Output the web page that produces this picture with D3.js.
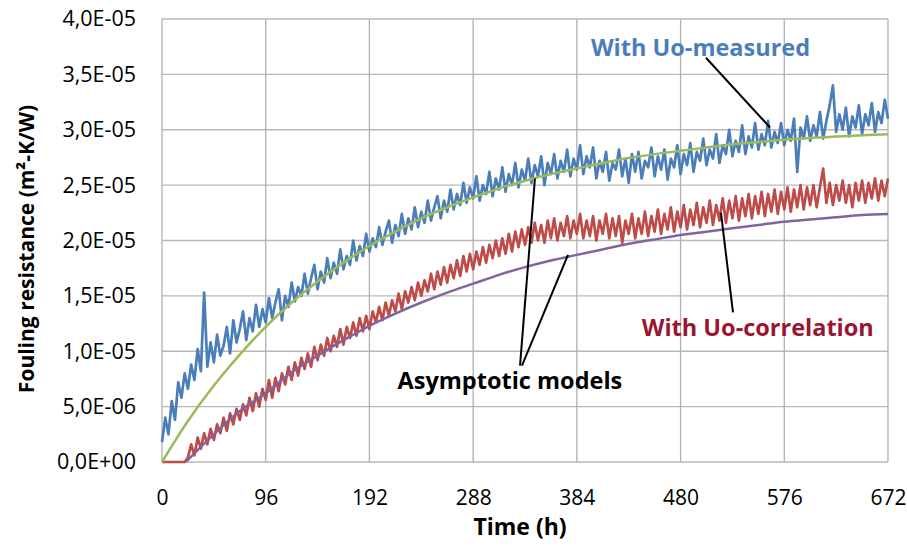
<!DOCTYPE html>
<html><head><meta charset="utf-8">
<script src="https://cdn.jsdelivr.net/npm/d3@7/dist/d3.min.js"></script>
<style>body{margin:0;background:#fff}svg{display:block}</style>
</head><body><svg id="c" width="907" height="547"></svg>
<script>
// Values in units of 1E-05 m2-K/W
const timeStep = 3; // hours between measured points
const measured = [0.18,0.40,0.25,0.55,0.38,0.72,0.58,0.80,0.66,0.88,0.74,1.02,0.82,1.53,0.86,1.08,0.90,1.15,0.96,1.05,1.22,0.98,1.28,1.08,1.20,1.36,1.10,1.30,1.18,1.42,1.22,1.38,1.26,1.48,1.30,1.44,1.56,1.28,1.50,1.40,1.62,1.45,1.58,1.50,1.70,1.52,1.66,1.78,1.56,1.72,1.62,1.84,1.66,1.80,1.70,1.92,1.74,1.86,1.78,2.00,1.82,1.95,1.86,2.06,1.90,2.02,1.94,2.12,1.96,2.08,2.18,1.98,2.14,2.04,2.24,2.06,2.20,2.10,2.30,2.12,2.26,2.16,2.36,2.18,2.30,2.40,2.20,2.36,2.26,2.46,2.28,2.42,2.32,2.52,2.34,2.48,2.38,2.58,2.36,2.50,2.42,2.62,2.40,2.56,2.46,2.66,2.44,2.60,2.50,2.70,2.48,2.64,2.54,2.74,2.52,2.68,2.58,2.76,2.50,2.70,2.60,2.78,2.56,2.72,2.62,2.82,2.58,2.74,2.64,2.86,2.60,2.76,2.66,2.84,2.56,2.72,2.62,2.80,2.54,2.70,2.64,2.82,2.58,2.74,2.52,2.78,2.62,2.80,2.56,2.72,2.66,2.84,2.58,2.76,2.64,2.82,2.55,2.74,2.66,2.86,2.60,2.78,2.68,2.88,2.62,2.80,2.72,2.92,2.68,2.82,2.74,2.96,2.70,2.86,2.78,3.00,2.76,2.90,2.80,3.04,2.78,2.94,2.84,3.06,2.82,2.96,2.86,3.08,2.84,2.98,2.88,3.06,2.86,3.00,2.90,3.10,2.62,3.02,2.92,3.12,2.90,3.04,2.94,3.16,2.92,3.08,3.22,3.40,2.98,3.14,3.00,3.20,2.94,3.12,3.02,3.22,2.96,3.14,3.04,3.24,2.98,3.16,3.06,3.27,3.10];
const correlation = [0,0,0,0,0,0,0,0,0.04,0.16,0.06,0.22,0.12,0.26,0.16,0.30,0.20,0.34,0.26,0.40,0.28,0.44,0.34,0.48,0.38,0.52,0.42,0.58,0.46,0.62,0.50,0.66,0.56,0.74,0.58,0.76,0.64,0.80,0.70,0.86,0.74,0.90,0.78,0.94,0.84,0.98,0.86,1.04,0.92,1.06,0.96,1.12,1.00,1.14,1.04,1.20,1.06,1.22,1.12,1.26,1.14,1.30,1.18,1.32,1.20,1.36,1.26,1.40,1.28,1.44,1.32,1.46,1.36,1.52,1.38,1.54,1.44,1.58,1.46,1.62,1.50,1.64,1.54,1.70,1.56,1.72,1.60,1.76,1.62,1.78,1.66,1.82,1.68,1.86,1.72,1.88,1.74,1.90,1.78,1.94,1.80,1.96,1.84,2.00,1.86,2.02,1.88,2.06,1.90,2.08,1.94,2.10,1.96,2.12,1.98,2.16,2.00,2.14,1.98,2.18,2.02,2.20,2.00,2.16,2.04,2.22,2.02,2.18,2.06,2.24,2.02,2.18,2.04,2.22,2.00,2.18,2.06,2.24,2.02,2.20,2.04,2.22,1.98,2.18,2.06,2.24,2.02,2.20,2.06,2.26,2.04,2.22,2.08,2.28,2.06,2.24,2.10,2.30,2.08,2.26,2.12,2.32,2.10,2.28,2.14,2.34,2.12,2.30,2.16,2.36,2.14,2.32,2.18,2.38,2.16,2.36,2.20,2.40,2.18,2.38,2.22,2.42,2.20,2.40,2.24,2.44,2.22,2.42,2.26,2.46,2.24,2.44,2.28,2.48,2.26,2.46,2.30,2.50,2.28,2.48,2.32,2.50,2.30,2.48,2.65,2.34,2.52,2.32,2.50,2.36,2.54,2.34,2.50,2.30,2.52,2.36,2.54,2.34,2.52,2.38,2.56,2.36,2.54,2.40,2.56];
const modelTimes = [0,24,48,72,96,120,144,168,192,216,240,264,288,312,336,360,384,408,432,456,480,504,528,552,576,600,624,648,672];
const modelMeasured = [0,0.37,0.69,0.97,1.22,1.44,1.63,1.80,1.95,2.08,2.20,2.30,2.39,2.47,2.54,2.60,2.65,2.70,2.745,2.78,2.81,2.84,2.87,2.89,2.91,2.925,2.94,2.95,2.96];
const modelCorrTimes = [22,24,48,72,96,120,144,168,192,216,240,264,288,312,336,360,384,408,432,456,480,504,528,552,576,600,624,648,672];
const modelCorrelation = [0,0.02,0.25,0.46,0.62,0.81,0.96,1.10,1.23,1.34,1.44,1.53,1.61,1.69,1.76,1.82,1.87,1.92,1.97,2.01,2.05,2.08,2.11,2.14,2.17,2.19,2.21,2.23,2.24];
const xTicks = [0,96,192,288,384,480,576,672];
const yTicks = [0,0.5,1.0,1.5,2.0,2.5,3.0,3.5,4.0];
const yTickLabels = ["0,0E+00","5,0E-06","1,0E-05","1,5E-05","2,0E-05","2,5E-05","3,0E-05","3,5E-05","4,0E-05"];
// annotation pointer lines [t1,v1,t2,v2]
const pointers = [[503.5,3.65,562.8,3.02],[331.4,0.87,345.2,2.56],[333.2,0.87,375.8,1.87],[517.4,2.25,528.5,1.35]];
const labels = [
  {text:"With Uo-measured", t:397, v:3.67, color:"#4a7ebb"},
  {text:"Asymptotic models", t:218, v:0.66, color:"#000"},
  {text:"With Uo-correlation", t:444, v:1.14, color:"#9a1530"}
];

const svg = d3.select("#c");
const m = {l:162, r:888, t:19, b:462};
const x = d3.scaleLinear().domain([0,672]).range([m.l,m.r]);
const y = d3.scaleLinear().domain([0,4]).range([m.b,m.t]);
const font = "'Open Sans', sans-serif";

// grid
const g = svg.append("g");
g.selectAll(".hg").data(yTicks).join("line")
  .attr("x1",m.l).attr("x2",m.r).attr("y1",d=>y(d)).attr("y2",d=>y(d))
  .attr("stroke","#b8b8b8").attr("stroke-width",1.3);
g.selectAll(".vg").data(xTicks).join("line")
  .attr("x1",d=>x(d)).attr("x2",d=>x(d)).attr("y1",m.t).attr("y2",m.b)
  .attr("stroke","#b0b0b0").attr("stroke-width",1.3);

// axis labels
const yAxis = d3.axisLeft(y).tickValues(yTicks).tickSize(0).tickPadding(26)
  .tickFormat((d,i)=>yTickLabels[i]);
const ya = svg.append("g").attr("transform",`translate(${m.l},0)`).call(yAxis);
ya.select(".domain").remove();
ya.selectAll("text").attr("font-family",font).attr("font-size",21.5).attr("fill","#000");

const xAxis = d3.axisBottom(x).tickValues(xTicks).tickSize(0).tickPadding(28);
const xa = svg.append("g").attr("transform",`translate(0,${m.b})`).call(xAxis);
xa.select(".domain").remove();
xa.selectAll("text").attr("font-family",font).attr("font-size",21).attr("fill","#000");

// series
const line = d3.line().x(d=>x(d[0])).y(d=>y(d[1]));
const smooth = d3.line().x(d=>x(d[0])).y(d=>y(d[1])).curve(d3.curveMonotoneX);
svg.append("path").datum(measured.map((v,i)=>[i*timeStep,v]))
  .attr("d",line).attr("fill","none").attr("stroke","#4a7ebb").attr("stroke-width",2.7).attr("stroke-linejoin","round");
svg.append("path").datum(correlation.map((v,i)=>[i*timeStep,v]))
  .attr("d",line).attr("fill","none").attr("stroke","#be4b48").attr("stroke-width",2.7).attr("stroke-linejoin","round");
svg.append("path").datum(modelTimes.map((t,i)=>[t,modelMeasured[i]]))
  .attr("d",smooth).attr("fill","none").attr("stroke","#9bbb59").attr("stroke-width",2.5);
svg.append("path").datum(modelCorrTimes.map((t,i)=>[t,modelCorrelation[i]]))
  .attr("d",smooth).attr("fill","none").attr("stroke","#8064a2").attr("stroke-width",2.5);

// pointers
svg.selectAll(".ptr").data(pointers).join("line")
  .attr("x1",d=>x(d[0])).attr("y1",d=>y(d[1])).attr("x2",d=>x(d[2])).attr("y2",d=>y(d[3]))
  .attr("stroke","#000").attr("stroke-width",2);

// labels
svg.selectAll(".lbl").data(labels).join("text")
  .attr("x",d=>x(d.t)).attr("y",d=>y(d.v)).text(d=>d.text)
  .attr("font-family",font).attr("font-weight","bold").attr("font-size",23.5).attr("fill",d=>d.color);

// axis titles
svg.append("text").attr("x",(m.l+m.r)/2 - 5).attr("y",535).attr("text-anchor","middle")
  .attr("font-family",font).attr("font-weight","bold").attr("font-size",23).text("Time (h)");
svg.append("text").attr("transform","translate(34,249) rotate(-90)").attr("text-anchor","middle")
  .attr("font-family",font).attr("font-weight","bold").attr("font-size",21).text("Fouling resistance (m²-K/W)");
</script></body></html>
